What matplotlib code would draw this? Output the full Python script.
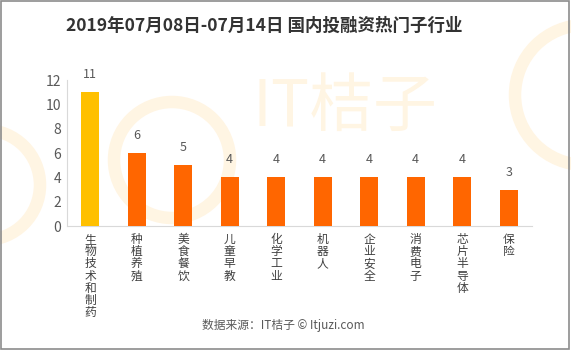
import matplotlib.pyplot as plt
from matplotlib.patches import Rectangle, Circle

plt.rcParams['font.family'] = ['Noto Sans CJK SC', 'DejaVu Sans']

categories = ['生物技术和制药', '种植养殖', '美食餐饮', '儿童早教', '化学工业',
              '机器人', '企业安全', '消费电子', '芯片半导体', '保险']
values = [11, 6, 5, 4, 4, 4, 4, 4, 4, 3]
colors = ['#FFC000'] + ['#FF6600'] * 9

fig = plt.figure(figsize=(5.71, 3.51), dpi=100)
fig.patch.set_facecolor('white')

# faint watermark in a background axes
bg = fig.add_axes([0, 0, 1, 1], zorder=0)
bg.set_xlim(0, 571)
bg.set_ylim(351, 0)
bg.axis('off')
bg.add_patch(Circle((172, 160), 58, fill=False, lw=9, ec='#FFF5E3'))
bg.add_patch(Circle((585, 95), 70, fill=False, lw=9, ec='#FFF5E3'))
bg.add_patch(Circle((-15, 185), 55, fill=False, lw=9, ec='#FFF5E3'))
bg.text(345, 108, 'IT桔子', fontsize=46, color='#FFF5E3', ha='center',
        va='center')

ax = fig.add_axes([0.1173, 0.356, 0.8144, 0.416], zorder=1)
ax.patch.set_alpha(0)
x = range(len(categories))
ax.bar(x, values, width=0.39, color=colors, zorder=3)

for xi, v in zip(x, values):
    ax.text(xi, v + 0.9, str(v), ha='center', va='bottom', fontsize=9,
            color='#595959')

ax.set_ylim(0, 12)
ax.set_xlim(-0.5, len(categories) - 0.5)
ax.set_yticks(range(0, 13, 2))
ax.tick_params(axis='y', length=0, labelsize=10, labelcolor='#595959', pad=4)
ax.set_xticks(list(x))
ax.set_xticklabels(['\n'.join(c) for c in categories], fontsize=8.5,
                   color='#404040', va='top', linespacing=0.92)
ax.tick_params(axis='x', length=0, pad=5)
for s in ['top', 'right']:
    ax.spines[s].set_visible(False)
for s in ['left', 'bottom']:
    ax.spines[s].set_color('#D9D9D9')

fig.text(0.462, 0.925, '2019年07月08日-07月14日 国内投融资热门子行业',
         ha='center', va='center', fontsize=12.6, fontweight='bold',
         color='#333333', zorder=2)
fig.text(0.497, 0.074, '数据来源：IT桔子 © Itjuzi.com', ha='center',
         va='center', fontsize=8.5, color='#595959', zorder=2)

fig.patches.append(Rectangle((0.001, 0.006), 0.996, 0.992,
                             transform=fig.transFigure, fill=False,
                             ec='#8C8C8C', lw=1.2))

fig.savefig('out.png', dpi=100)
